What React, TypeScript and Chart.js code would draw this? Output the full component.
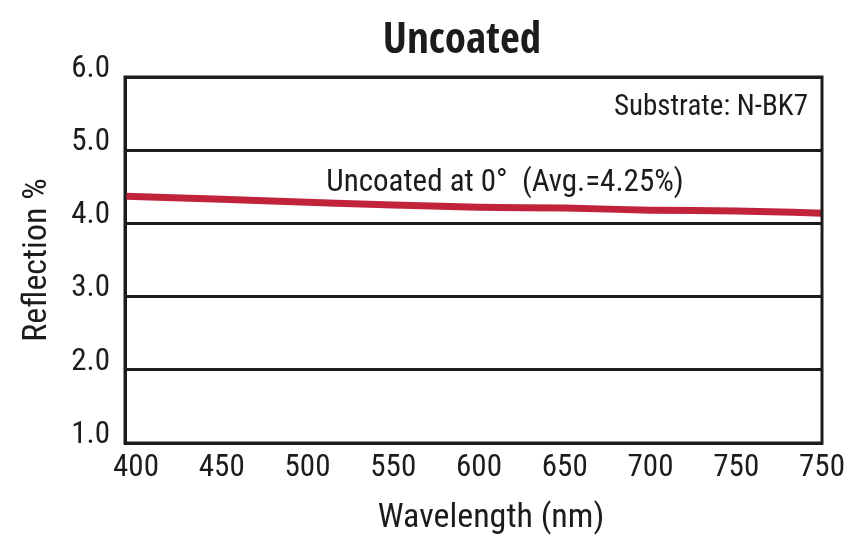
import React, { useEffect, useRef } from "react";
import { Chart, registerables } from "chart.js";

Chart.register(...registerables);

const chartTitle = "Uncoated";
const substrateNote = "Substrate: N-BK7";
const seriesNote = "Uncoated at 0°  (Avg.=4.25%)";
const xAxisTitle = "Wavelength (nm)";
const yAxisTitle = "Reflection %";

const wavelengths = [394, 450, 500, 550, 600, 650, 700, 750, 800];
const reflection = [4.37, 4.33, 4.29, 4.25, 4.22, 4.21, 4.18, 4.17, 4.14];

const xTickValues = [400, 450, 500, 550, 600, 650, 700, 750, 800];
const xTickLabels = ["400", "450", "500", "550", "600", "650", "700", "750", "750"];
const yTickValues = [1, 2, 3, 4, 5, 6];

const FONT = "'Roboto Condensed', 'Liberation Sans', sans-serif";
const TITLE_FONT = "'Open Sans Condensed', 'Roboto Condensed', sans-serif";
const INK = "#1e1b1c";
const RED = "#c1233b";

const framePlugin = {
  id: "frameAndNotes",
  afterDraw(chart: any) {
    const { ctx, chartArea } = chart;
    const { left, right, top, bottom } = chartArea;
    ctx.save();
    ctx.strokeStyle = INK;
    ctx.lineWidth = 3;
    ctx.strokeRect(left, top, right - left, bottom - top);

    ctx.fillStyle = INK;
    ctx.textBaseline = "alphabetic";
    ctx.font = `bold 43px ${TITLE_FONT}`;
    ctx.textAlign = "center";
    ctx.fillText(chartTitle, 462, 53);

    ctx.font = `29px ${FONT}`;
    ctx.textAlign = "right";
    ctx.fillText(substrateNote, right - 14, 115);

    ctx.font = `31px ${FONT}`;
    ctx.textAlign = "center";
    ctx.fillText(seriesNote, 505, 191);

    ctx.font = `34px ${FONT}`;
    ctx.textAlign = "center";
    ctx.fillText(xAxisTitle, 491, 527);
    ctx.restore();
  },
};

export default function App() {
  const ref = useRef<HTMLCanvasElement | null>(null);

  useEffect(() => {
    document.body.style.margin = "0";
    const canvas = ref.current!;
    const chart = new Chart(canvas, {
      type: "line",
      data: {
        datasets: [
          {
            data: wavelengths.map((w, i) => ({ x: w, y: reflection[i] })),
            borderColor: RED,
            borderWidth: 7,
            pointRadius: 0,
            tension: 0.4,
            cubicInterpolationMode: "monotone",
            fill: false,
          },
        ],
      },
      options: {
        animation: false,
        responsive: false,
        devicePixelRatio: 1,
        layout: { padding: { top: 77, right: 32, left: 0, bottom: 0 } },
        plugins: {
          legend: { display: false },
          title: { display: false },
          tooltip: { enabled: false },
        },
        scales: {
          x: {
            type: "linear",
            min: 393.6,
            max: 800,
            afterBuildTicks: (scale: any) => {
              scale.ticks = xTickValues.map((v) => ({ value: v }));
            },
            afterFit: (scale: any) => {
              scale.height = 98;
            },
            grid: { display: false, drawTicks: false },
            border: { display: true, color: INK, width: 3 },
            ticks: {
              padding: 7,
              color: INK,
              font: { family: FONT, size: 31 },
              maxRotation: 0,
              autoSkip: false,
              callback: (_v: any, i: number) => xTickLabels[i],
            },
            title: { display: false },
          },
          y: {
            type: "linear",
            min: 1,
            max: 6,
            afterBuildTicks: (scale: any) => {
              scale.ticks = yTickValues.map((v) => ({ value: v }));
            },
            afterFit: (scale: any) => {
              scale.width = 125;
            },
            grid: { color: INK, lineWidth: 3, drawTicks: false },
            border: { display: true, color: INK, width: 3 },
            ticks: {
              padding: 15,
              labelOffset: -8,
              color: INK,
              font: { family: FONT, size: 31 },
              callback: (v: any) => Number(v).toFixed(1),
            },
            title: {
              display: true,
              text: yAxisTitle,
              color: INK,
              font: { family: FONT, size: 34, lineHeight: 1 },
              padding: { top: 20, bottom: 0 },
            },
          },
        },
      },
      plugins: [framePlugin],
    } as any);
    return () => chart.destroy();
  }, []);

  return (
    <div style={{ width: 854, height: 541 }}>
      <canvas ref={ref} width={854} height={541} style={{ width: 854, height: 541, display: "block" }} />
    </div>
  );
}
